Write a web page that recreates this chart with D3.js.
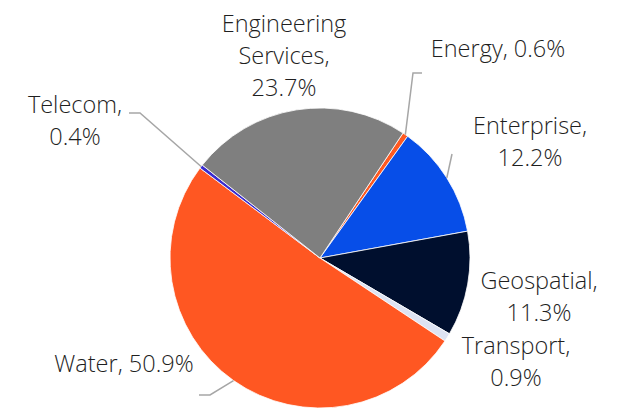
<!DOCTYPE html>
<html>
<head>
<meta charset="utf-8">
<script src="https://cdn.jsdelivr.net/npm/d3@7"></script>
<style>
  body { margin: 0; background: #fff; }
  text { font-family: "Open Sans", "Noto Sans", sans-serif; font-size: 23.5px; font-weight: 300; fill: #1F1F1F; }
</style>
</head>
<body>
<div id="pie-chart"></div>
<script>
// Data (clockwise, starting with Energy)
const categories = ["Energy", "Enterprise", "Geospatial", "Transport", "Water", "Telecom", "Engineering Services"];
const shares = [0.6, 12.2, 11.3, 0.9, 50.9, 0.4, 23.7];
const colours = ["#FF5A22", "#074EE8", "#000F2E", "#DDE3F3", "#FF5722", "#3A2BD0", "#7F7F7F"];

const width = 620;
const height = 408;
const cx = 320, cy = 258, radius = 150;
const startDeg = 33.6;

const svg = d3.select("#pie-chart")
  .append("svg")
    .attr("width", width)
    .attr("height", height);

const pie = d3.pie()
  .sort(null)
  .value(d => d)
  .startAngle(startDeg * Math.PI / 180)
  .endAngle(startDeg * Math.PI / 180 + 2 * Math.PI);

const arcs = pie(shares);
const arc = d3.arc().innerRadius(0).outerRadius(radius);

const chart = svg.append("g")
  .attr("transform", `translate(${cx}, ${cy})`);

chart.selectAll("path")
  .data(arcs)
  .join("path")
    .attr("d", arc)
    .attr("fill", (d, i) => colours[i])
    .attr("stroke", "#fff")
    .attr("stroke-width", 0.8);

// point on the rim at the middle of a slice
const rim = d => {
  const a = (d.startAngle + d.endAngle) / 2;
  return [cx + radius * Math.sin(a), cy - radius * Math.cos(a)];
};

// label layout: lines of text, anchor x, first baseline, leader line bends
const labels = [
  {lines: ["Energy, 0.6%"], x: 498, y: 57, leader: [[413, 73], [422, 73]]},
  {lines: ["Enterprise,", "12.2%"], x: 530, y: 134, leader: [[452, 154]]},
  {lines: ["Geospatial,", "11.3%"], x: 539, y: 289, leader: null},
  {lines: ["Transport,", "0.9%"], x: 516, y: 354, leader: null},
  {lines: ["Water, 50.9%"], x: 124, y: 372, leader: [[210, 395], [199, 395]]},
  {lines: ["Telecom,", "0.4%"], x: 75, y: 113, leader: [[140, 113], [129, 113]]},
  {lines: ["Engineering", "Services,", "23.7%"], x: 284, y: 32, leader: null}
];

const lineHeight = 32;

labels.forEach((l, i) => {
  if (l.leader) {
    const pts = [rim(arcs[i]), ...l.leader];
    svg.append("path")
      .attr("d", d3.line()(pts))
      .attr("fill", "none")
      .attr("stroke", "#A6A6A6")
      .attr("stroke-width", 1.5);
  }
  const t = svg.append("text")
    .attr("text-anchor", "middle")
    .attr("x", l.x)
    .attr("y", l.y);
  l.lines.forEach((s, j) => {
    t.append("tspan")
      .attr("x", l.x)
      .attr("dy", j === 0 ? 0 : lineHeight)
      .text(s);
  });
});
</script>
</body>
</html>
